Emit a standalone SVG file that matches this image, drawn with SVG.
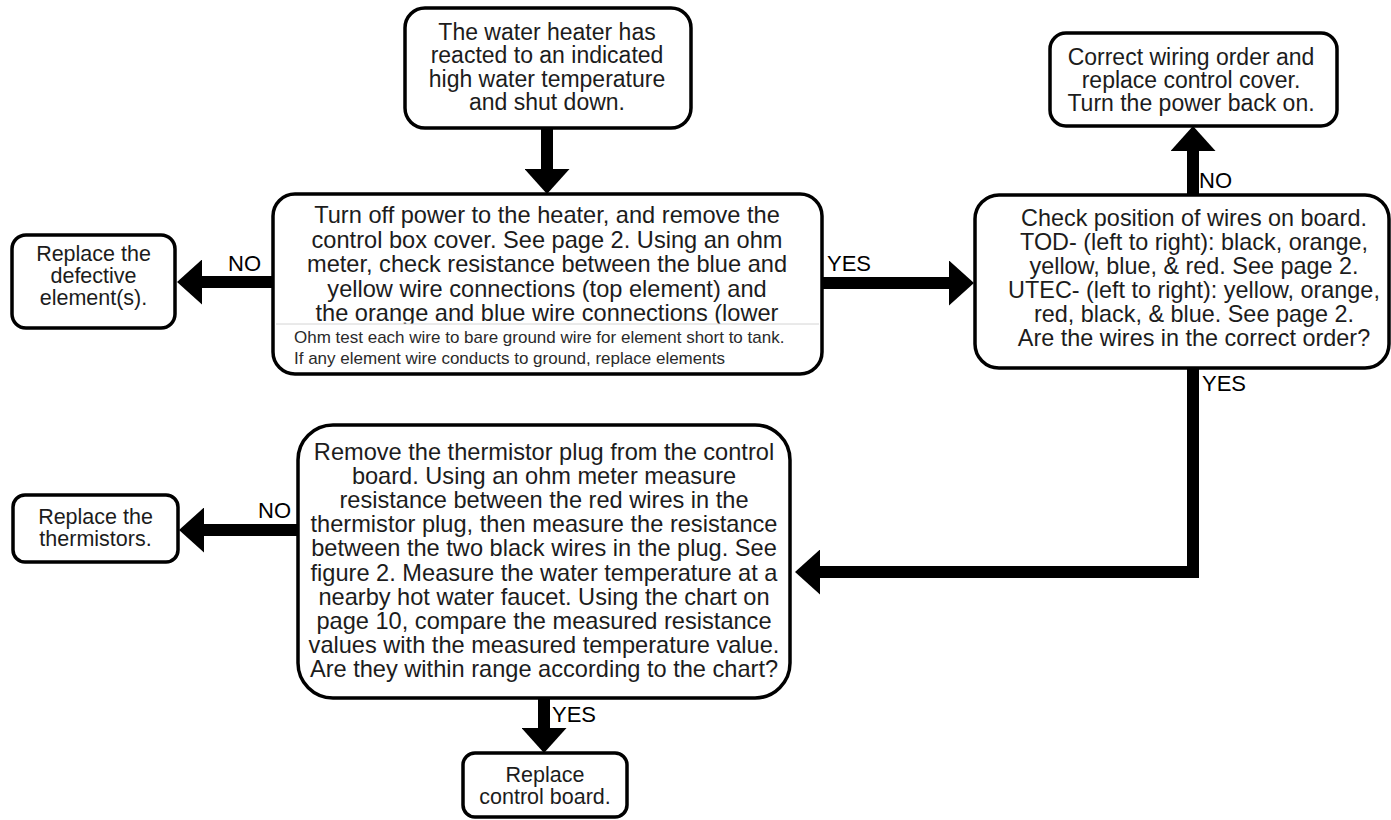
<svg xmlns="http://www.w3.org/2000/svg" width="1391" height="820" viewBox="0 0 1391 820">
<style>
.box{fill:#fff;stroke:#000;stroke-width:3.5}
.outline{fill:none;stroke:#000;stroke-width:3.5}
.t{font-family:"Liberation Sans",Arial,sans-serif;fill:#1c1c1c;text-anchor:middle}
.lbl{font-family:"Liberation Sans",Arial,sans-serif;fill:#000;font-size:22px}
.small{font-family:"Liberation Sans",Arial,sans-serif;fill:#2a2a2a;font-size:17px}
.conn{fill:none;stroke:#000;stroke-width:12;stroke-linejoin:miter;marker-end:url(#ah)}
</style>
<defs>
<marker id="ah" markerUnits="userSpaceOnUse" viewBox="0 0 25 45" refX="0" refY="22.5" markerWidth="25" markerHeight="45" orient="auto">
<path d="M0,0 L25,22.5 L0,45 Z" fill="#000"/>
</marker>
</defs>
<rect width="1391" height="820" fill="#fff"/>

<g id="connectors">
<line class="conn" x1="547" y1="128" x2="547" y2="169"/>
<line class="conn" x1="273" y1="282" x2="202" y2="282"/>
<line class="conn" x1="822" y1="283" x2="949" y2="283"/>
<line class="conn" x1="1193" y1="195" x2="1193" y2="151"/>
<polyline class="conn" points="1193,368 1193,572 820,572"/>
<line class="conn" x1="298" y1="530" x2="204" y2="530"/>
<line class="conn" x1="544" y1="698" x2="544" y2="728"/>
<text class="lbl" x="228" y="271">NO</text>
<text class="lbl" x="827" y="271">YES</text>
<text class="lbl" x="1199" y="188">NO</text>
<text class="lbl" x="1202" y="391">YES</text>
<text class="lbl" x="258" y="518">NO</text>
<text class="lbl" x="552" y="722">YES</text>
</g>

<g id="start">
<rect class="box" x="405" y="8" width="286" height="120" rx="20"/>
<text class="t" font-size="23" x="547" y="40"><tspan x="547">The water heater has</tspan><tspan x="547" dy="23.4">reacted to an indicated</tspan><tspan x="547" dy="23.4">high water temperature</tspan><tspan x="547" dy="23.4">and shut down.</tspan></text>
</g>

<g id="check-elements">
<rect x="273" y="194" width="549" height="180" rx="22" fill="#fff"/>
<text class="t" font-size="23.6" x="547" y="223"><tspan x="547">Turn off power to the heater, and remove the</tspan><tspan x="547" dy="24.5">control box cover. See page 2. Using an ohm</tspan><tspan x="547" dy="24.5">meter, check resistance between the blue and</tspan><tspan x="547" dy="24.5">yellow wire connections (top element) and</tspan><tspan x="547" dy="24.5">the orange and blue wire connections (lower</tspan></text>
<rect x="276" y="324" width="543" height="48" fill="#fff"/>
<line x1="276" y1="324" x2="819" y2="324" stroke="#d4d4d4" stroke-width="1"/>
<text class="small" x="294" y="343">Ohm test each wire to bare ground wire for element short to tank.</text>
<text class="small" x="294" y="364">If any element wire conducts to ground, replace elements</text>
<rect class="outline" x="273" y="194" width="549" height="180" rx="22"/>
</g>

<g id="replace-element">
<rect class="box" x="12" y="235" width="163" height="93" rx="14"/>
<text class="t" font-size="21.5" x="93.5" y="261"><tspan x="93.5">Replace the</tspan><tspan x="93.5" dy="22">defective</tspan><tspan x="93.5" dy="22">element(s).</tspan></text>
</g>

<g id="check-wiring">
<rect class="box" x="975" y="195" width="414" height="173" rx="24"/>
<text class="t" font-size="23.4" x="1194" y="226"><tspan x="1194">Check position of wires on board.</tspan><tspan x="1194" dy="24">TOD- (left to right): black, orange,</tspan><tspan x="1194" dy="24">yellow, blue, &amp; red. See page 2.</tspan><tspan x="1194" dy="24">UTEC- (left to right): yellow, orange,</tspan><tspan x="1194" dy="24">red, black, &amp; blue. See page 2.</tspan><tspan x="1194" dy="24">Are the wires in the correct order?</tspan></text>
</g>

<g id="correct-wiring">
<rect class="box" x="1050" y="33" width="287" height="93" rx="16"/>
<text class="t" font-size="23" x="1191" y="64.5"><tspan x="1191">Correct wiring order and</tspan><tspan x="1191" dy="23.4">replace control cover.</tspan><tspan x="1191" dy="23.4">Turn the power back on.</tspan></text>
</g>

<g id="check-thermistors">
<rect class="box" x="298" y="425" width="492" height="273" rx="35"/>
<text class="t" font-size="23.6" x="544" y="460"><tspan x="544">Remove the thermistor plug from the control</tspan><tspan x="544" dy="24.1">board. Using an ohm meter measure</tspan><tspan x="544" dy="24.1">resistance between the red wires in the</tspan><tspan x="544" dy="24.1">thermistor plug, then measure the resistance</tspan><tspan x="544" dy="24.1">between the two black wires in the plug. See</tspan><tspan x="544" dy="24.1">figure 2. Measure the water temperature at a</tspan><tspan x="544" dy="24.1">nearby hot water faucet. Using the chart on</tspan><tspan x="544" dy="24.1">page 10, compare the measured resistance</tspan><tspan x="544" dy="24.1">values with the measured temperature value.</tspan><tspan x="544" dy="24.1">Are they within range according to the chart?</tspan></text>
</g>

<g id="replace-thermistors">
<rect class="box" x="13" y="495" width="165" height="67" rx="12"/>
<text class="t" font-size="21.5" x="95.5" y="524"><tspan x="95.5">Replace the</tspan><tspan x="95.5" dy="22">thermistors.</tspan></text>
</g>

<g id="replace-board">
<rect class="box" x="463" y="753" width="164" height="64" rx="12"/>
<text class="t" font-size="21.5" x="545" y="782"><tspan x="545">Replace</tspan><tspan x="545" dy="22">control board.</tspan></text>
</g>
</svg>
